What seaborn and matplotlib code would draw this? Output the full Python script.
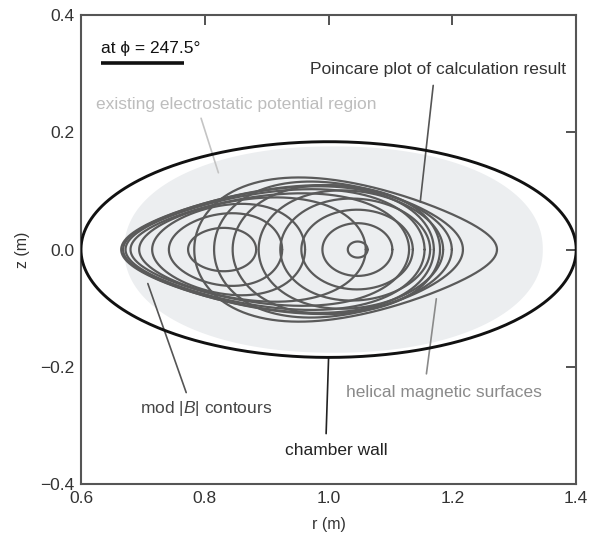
import numpy as np
import pandas as pd
import matplotlib
matplotlib.use("Agg")
import matplotlib.pyplot as plt
import seaborn as sns

# ---------------- data ----------------
# chamber wall ellipse: centre r, centre z, half-width, half-height (m)
wall_center = (1.0, 0.0)
wall_half = (0.4, 0.184)

# existing electrostatic potential region (rounded super-ellipse)
region_center = (1.008, 0.0)
region_half = (0.338, 0.176)
region_power = 2.15

# mod|B| contours: left edge r, right edge r, half height z, left pointedness
modB_left = [0.773, 0.742, 0.715, 0.694, 0.680, 0.672, 0.665]
modB_right = [0.883, 0.925, 0.962, 1.060, 1.130, 1.155, 1.170]
modB_half = [0.037, 0.062, 0.078, 0.089, 0.096, 0.103, 0.108]
modB_point = [0.05, 0.12, 0.18, 0.22, 0.26, 0.28, 0.30]

# helical magnetic surfaces: left edge r, right edge r, half height z, right pointedness
hel_left = [1.031, 0.990, 0.956, 0.922, 0.887, 0.845, 0.815, 0.783]
hel_right = [1.063, 1.103, 1.136, 1.164, 1.185, 1.199, 1.217, 1.272]
hel_half = [0.0137, 0.045, 0.068, 0.087, 0.101, 0.110, 0.116, 0.123]
hel_point = [0.0, 0.0, 0.0, 0.05, 0.10, 0.15, 0.25, 0.38]

# Poincare plot of calculation result (outer surface)
poin_left, poin_right, poin_half, poin_point = 0.668, 1.180, 0.110, 0.30

# axes
x_ticks = [0.6, 0.8, 1.0, 1.2, 1.4]
y_ticks = [-0.4, -0.2, 0.0, 0.2, 0.4]
y_tick_labels = ["\u22120.4", "\u22120.2", "0.0", "0.2", "0.4"]

# ---------------- helpers ----------------
t = np.linspace(0, 2 * np.pi, 400)


def egg(rl, rr, h, k):
    """closed curve from rl to rr, half height h; k>0 narrower left, k<0 narrower right"""
    c = 0.5 * (rl + rr)
    a = 0.5 * (rr - rl)
    f = np.sin(t) * (1 + k * np.cos(t))
    f = f / np.abs(f).max()
    return c + a * np.cos(t), h * f


rows = []
for i, (rl, rr, h, k) in enumerate(zip(modB_left, modB_right, modB_half, modB_point)):
    r, z = egg(rl, rr, h, k)
    rows.append(pd.DataFrame({"r": r, "z": z, "curve": f"B{i}"}))
for i, (rl, rr, h, k) in enumerate(zip(hel_left, hel_right, hel_half, hel_point)):
    r, z = egg(rl, rr, h, -k)
    rows.append(pd.DataFrame({"r": r, "z": z, "curve": f"H{i}"}))
r, z = egg(poin_left, poin_right, poin_half, poin_point)
rows.append(pd.DataFrame({"r": r, "z": z, "curve": "P"}))
df = pd.concat(rows, ignore_index=True)

wall_df = pd.DataFrame({"r": wall_center[0] + wall_half[0] * np.cos(t),
                        "z": wall_center[1] + wall_half[1] * np.sin(t)})

ct, st = np.cos(t), np.sin(t)
reg_r = region_center[0] + region_half[0] * np.sign(ct) * np.abs(ct) ** (2 / region_power)
reg_z = region_center[1] + region_half[1] * np.sign(st) * np.abs(st) ** (2 / region_power)

# ---------------- plot ----------------
sns.set_style("white")
plt.rcParams["font.family"] = ["Liberation Sans", "DejaVu Sans"]
plt.rcParams["mathtext.fontset"] = "custom"
plt.rcParams["mathtext.it"] = "Liberation Sans:italic"
plt.rcParams["mathtext.rm"] = "Liberation Sans"

fig = plt.figure(figsize=(5.91, 5.39), dpi=100)
ax = fig.add_axes([0.137, 0.102, 0.838, 0.870])

ax.fill(reg_r, reg_z, color="#eceef0", lw=0, zorder=0)

line_col = "#5a5a5a"
sns.lineplot(data=df, x="r", y="z", units="curve", estimator=None, sort=False,
             color=line_col, lw=1.6, ax=ax, zorder=2)
sns.lineplot(data=wall_df, x="r", y="z", estimator=None, sort=False,
             color="#111111", lw=2.1, ax=ax, zorder=3)

ax.set_xlim(0.6, 1.4)
ax.set_ylim(-0.4, 0.4)
ax.set_xticks(x_ticks)
ax.set_xticklabels([f"{v:.1f}" for v in x_ticks])
ax.set_yticks(y_ticks)
ax.set_yticklabels(y_tick_labels)
ax.tick_params(direction="in", length=7, width=1.3, color="#444444",
               top=True, right=True, labelsize=12.5, labelcolor="#333333", pad=5)
for s in ax.spines.values():
    s.set_color("#555555")
    s.set_linewidth(1.5)
ax.set_xlabel("r (m)", fontsize=11.5, color="#333333", labelpad=8)
ax.set_ylabel("z (m)", fontsize=11.5, color="#333333", labelpad=7)

fs = 12.5
# annotations (axes data coordinates)
ax.text(0.633, 0.343, "at \u03d5 = 247.5\u00b0", fontsize=fs, color="#111111", va="center", ha="left")
ax.plot([0.633, 0.766], [0.318, 0.318], color="#111111", lw=2.6, solid_capstyle="butt")

ax.text(1.176, 0.308, "Poincare plot of calculation result", fontsize=fs, color="#333333",
        va="center", ha="center")
ax.plot([1.169, 1.148], [0.280, 0.081], color="#555555", lw=1.2)

ax.text(0.624, 0.247, "existing electrostatic potential region", fontsize=fs, color="#bdbdbd",
        va="center", ha="left")
ax.plot([0.794, 0.822], [0.224, 0.131], color="#c4c4c4", lw=1.2)

ax.text(0.802, -0.272, r"mod $|B|$ contours", fontsize=fs, color="#444444", va="center", ha="center")
ax.plot([0.708, 0.770], [-0.058, -0.244], color="#555555", lw=1.2)

ax.text(1.186, -0.244, "helical magnetic surfaces", fontsize=fs, color="#8a8a8a", va="center", ha="center")
ax.plot([1.174, 1.158], [-0.084, -0.212], color="#8a8a8a", lw=1.2)

ax.text(1.012, -0.342, "chamber wall", fontsize=fs, color="#222222", va="center", ha="center")
ax.plot([1.0, 0.996], [-0.184, -0.314], color="#222222", lw=1.2)

fig.savefig("out.png", dpi=100)
